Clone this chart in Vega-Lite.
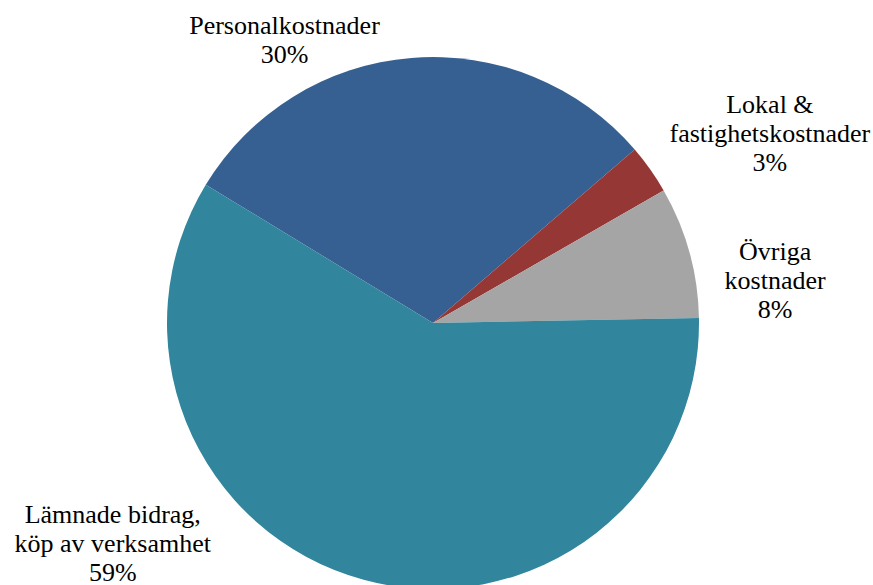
{
  "$schema": "https://vega.github.io/schema/vega-lite/v6.json",
  "width": 873,
  "height": 585,
  "autosize": {"type": "fit", "contains": "padding"},
  "padding": 0,
  "background": "white",
  "config": {"view": {"stroke": null}},
  "data": {
    "values": [
      {"kategori": "Personalkostnader", "andel": 30, "etikett": "Personalkostnader\n30%"},
      {"kategori": "Lokal & fastighetskostnader", "andel": 3, "etikett": "Lokal &\nfastighetskostnader\n3%"},
      {"kategori": "Övriga kostnader", "andel": 8, "etikett": "Övriga\nkostnader\n8%"},
      {"kategori": "Lämnade bidrag, köp av verksamhet", "andel": 59, "etikett": "Lämnade bidrag,\nköp av verksamhet\n59%"}
    ]
  },
  "transform": [
    {"window": [{"op": "row_number", "as": "ordning"}]},
    {"stack": "andel", "groupby": [], "sort": [{"field": "ordning", "order": "ascending"}], "as": ["t0", "t1"]},
    {"calculate": "(datum.t0 + datum.t1) / 2", "as": "tm"}
  ],
  "layer": [
    {
      "mark": {"type": "arc", "outerRadius": 266, "x": 433, "y": 323},
      "encoding": {
        "theta": {"field": "t0", "type": "quantitative", "scale": {"domain": [0, 100], "range": [-1.0242, 5.259]}},
        "theta2": {"field": "t1"},
        "color": {
          "field": "kategori",
          "type": "nominal",
          "legend": null,
          "scale": {
            "domain": ["Personalkostnader", "Lokal & fastighetskostnader", "Övriga kostnader", "Lämnade bidrag, köp av verksamhet"],
            "range": ["#376092", "#953735", "#a5a5a5", "#31859c"]
          }
        }
      }
    },
    {
      "transform": [{"filter": "datum.ordning == 1"}],
      "mark": {"type": "text", "radius": 300, "x": 433, "y": 323, "dx": -124, "dy": 2, "lineBreak": "\n", "font": "Liberation Serif", "fontSize": 26, "lineHeight": 29, "baseline": "middle", "align": "center", "color": "black"},
      "encoding": {"theta": {"field": "tm", "type": "quantitative", "scale": {"domain": [0, 100], "range": [-1.0242, 5.259]}}, "text": {"field": "etikett"}}
    },
    {
      "transform": [{"filter": "datum.ordning == 2"}],
      "mark": {"type": "text", "radius": 300, "x": 433, "y": 323, "dx": 92, "dy": -45, "lineBreak": "\n", "font": "Liberation Serif", "fontSize": 26, "lineHeight": 29, "baseline": "middle", "align": "center", "color": "black"},
      "encoding": {"theta": {"field": "tm", "type": "quantitative", "scale": {"domain": [0, 100], "range": [-1.0242, 5.259]}}, "text": {"field": "etikett"}}
    },
    {
      "transform": [{"filter": "datum.ordning == 3"}],
      "mark": {"type": "text", "radius": 300, "x": 433, "y": 323, "dx": 53, "dy": 9, "lineBreak": "\n", "font": "Liberation Serif", "fontSize": 26, "lineHeight": 29, "baseline": "middle", "align": "center", "color": "black"},
      "encoding": {"theta": {"field": "tm", "type": "quantitative", "scale": {"domain": [0, 100], "range": [-1.0242, 5.259]}}, "text": {"field": "etikett"}}
    },
    {
      "transform": [{"filter": "datum.ordning == 4"}],
      "mark": {"type": "text", "radius": 300, "x": 433, "y": 323, "dx": -242, "dy": -98, "lineBreak": "\n", "font": "Liberation Serif", "fontSize": 26, "lineHeight": 29, "baseline": "middle", "align": "center", "color": "black"},
      "encoding": {"theta": {"field": "tm", "type": "quantitative", "scale": {"domain": [0, 100], "range": [-1.0242, 5.259]}}, "text": {"field": "etikett"}}
    }
  ]
}
